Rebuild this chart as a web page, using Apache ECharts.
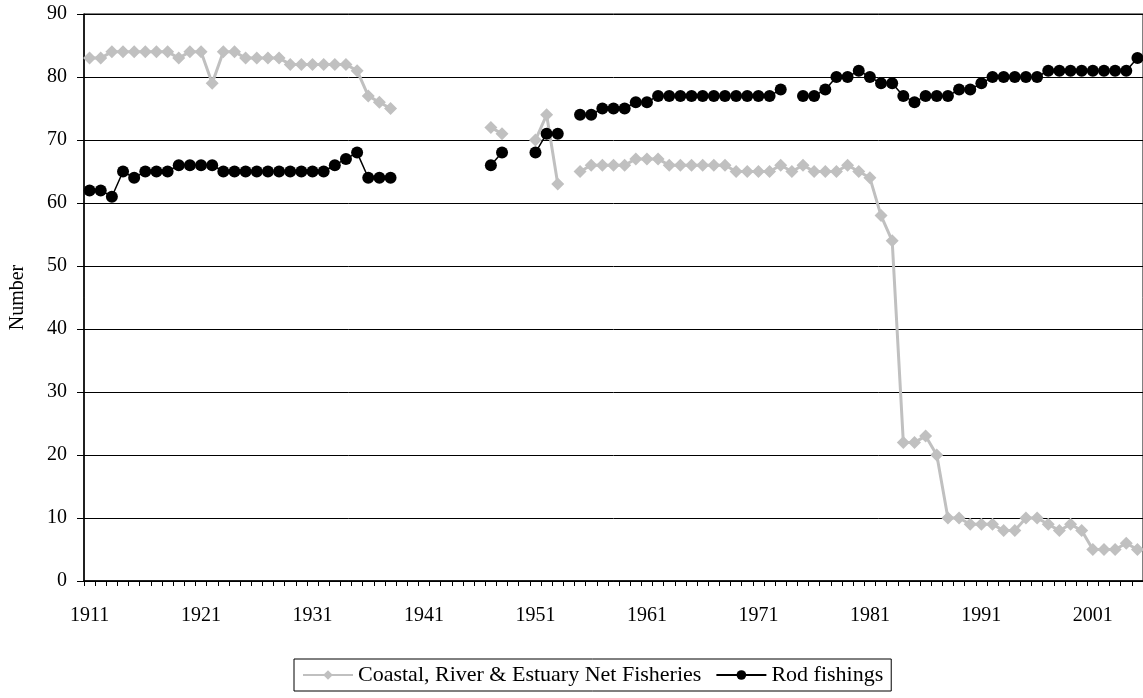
<!DOCTYPE html>
<html>
<head>
<meta charset="utf-8">
<script src="https://cdn.jsdelivr.net/npm/echarts@6/dist/echarts.min.js"></script>
<style>html,body{margin:0;padding:0;background:#fff;}#c{width:1143px;height:698px;}</style>
</head>
<body>
<div id="c"></div>
<script>
var years = [];
for (var y = 1911; y <= 2005; y++) years.push(String(y));

// Coastal, River & Estuary Net Fisheries (1911..2005), null = no data
var netFisheries = [
  83,83,84,84,84,84,84,84,83,84, // 1911-1920
  84,79,84,84,83,83,83,83,82,82, // 1921-1930
  82,82,82,82,81,77,76,75,null,null, // 1931-1940
  null,null,null,null,null,null,72,71,null,null, // 1941-1950
  70,74,63,null,65,66,66,66,66,67, // 1951-1960
  67,67,66,66,66,66,66,66,65,65, // 1961-1970
  65,65,66,65,66,65,65,65,66,65, // 1971-1980
  64,58,54,22,22,23,20,10,10,9, // 1981-1990
  9,9,8,8,10,10,9,8,9,8, // 1991-2000
  5,5,5,6,5 // 2001-2005
];

// Rod fishings (1911..2005)
var rodFishings = [
  62,62,61,65,64,65,65,65,66,66, // 1911-1920
  66,66,65,65,65,65,65,65,65,65, // 1921-1930
  65,65,66,67,68,64,64,64,null,null, // 1931-1940
  null,null,null,null,null,null,66,68,null,null, // 1941-1950
  68,71,71,null,74,74,75,75,75,76, // 1951-1960
  76,77,77,77,77,77,77,77,77,77, // 1961-1970
  77,77,78,null,77,77,78,80,80,81, // 1971-1980
  80,79,79,77,76,77,77,77,78,78, // 1981-1990
  79,80,80,80,80,80,81,81,81,81, // 1991-2000
  81,81,81,81,83 // 2001-2005
];

var font = '"Liberation Serif", "Times New Roman", serif';
var chart = echarts.init(document.getElementById('c'), null, {renderer: 'canvas'});
chart.setOption({
  animation: false,
  backgroundColor: '#fff',
  grid: {
    left: 84, right: -8, top: 14, bottom: 117,
    show: true, borderColor: '#000', borderWidth: 1, backgroundColor: 'transparent',
    containLabel: false
  },
  legend: {
    left: 294, top: 659,
    orient: 'horizontal',
    borderColor: '#000', borderWidth: 1, borderRadius: 0,
    padding: [5, 8, 5, 8],
    itemWidth: 50, itemHeight: 12, itemGap: 14,
    textStyle: {fontFamily: font, fontSize: 22, color: '#000'},
    data: ['Coastal, River & Estuary Net Fisheries', 'Rod fishings']
  },
  xAxis: {
    type: 'category',
    data: years,
    boundaryGap: true,
    axisLine: {show: true, lineStyle: {color: '#000', width: 1.5}},
    axisTick: {show: true, interval: 0, length: 5, lineStyle: {color: '#000'}},
    axisLabel: {interval: 9, margin: 25, fontFamily: font, fontSize: 20, color: '#000'},
    splitLine: {show: false}
  },
  yAxis: {
    type: 'value',
    min: 0, max: 90, interval: 10,
    name: 'Number',
    nameLocation: 'middle',
    nameGap: 56,
    nameRotate: 90,
    nameTextStyle: {fontFamily: font, fontSize: 20, color: '#000'},
    axisLine: {show: true, lineStyle: {color: '#000', width: 1.5}},
    axisTick: {show: true, length: 7, lineStyle: {color: '#000'}},
    axisLabel: {margin: 17, fontFamily: font, fontSize: 20, color: '#000'},
    splitLine: {show: true, lineStyle: {color: '#000', width: 1}}
  },
  series: [
    {
      name: 'Coastal, River & Estuary Net Fisheries',
      type: 'line',
      data: netFisheries,
      connectNulls: false,
      symbol: 'diamond',
      symbolSize: 13,
      showAllSymbol: true,
      lineStyle: {color: '#C0C0C0', width: 3},
      itemStyle: {color: '#C0C0C0'}
    },
    {
      name: 'Rod fishings',
      type: 'line',
      data: rodFishings,
      connectNulls: false,
      symbol: 'circle',
      symbolSize: 12,
      showAllSymbol: true,
      lineStyle: {color: '#000', width: 1.5},
      itemStyle: {color: '#000'}
    }
  ]
});
</script>
</body>
</html>
